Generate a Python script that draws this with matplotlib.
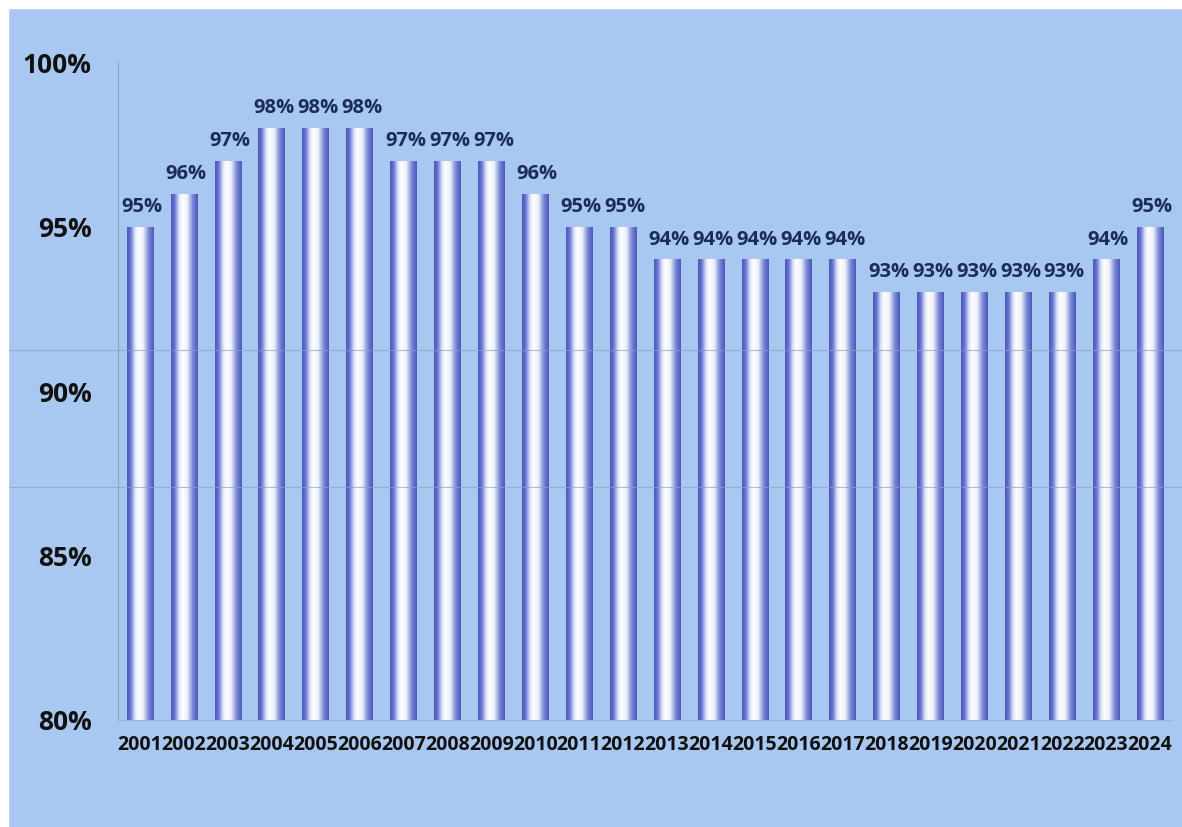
import matplotlib
matplotlib.use('Agg')
import matplotlib.pyplot as plt
import numpy as np
from matplotlib.colors import LinearSegmentedColormap
from matplotlib.lines import Line2D

# valores
years = [str(y) for y in range(2001, 2025)]
values = [95, 96, 97, 98, 98, 98, 97, 97, 97, 96, 95, 95,
          94, 94, 94, 94, 94, 93, 93, 93, 93, 93, 94, 95]
ymin = 80
ymax = 100
yticks = [80, 85, 90, 95, 100]

bg = '#a9c8f1'
plt.rcParams['font.family'] = ['Open Sans', 'DejaVu Sans']

fig = plt.figure(figsize=(11.82, 8.27), dpi=100, facecolor=bg)
ax = fig.add_axes([0.0998, 0.1294, 0.8917, 0.7956])
ax.set_facecolor(bg)

# gradiente tipo cilindro
cyl = LinearSegmentedColormap.from_list('cyl', [
    (0.0, '#4b58bd'), (0.12, '#6371cf'), (0.3, '#dfe6fb'), (0.42, '#ffffff'),
    (0.6, '#eef1fc'), (0.82, '#7886d5'), (1.0, '#4b58bd')])
grad = np.linspace(0, 1, 64).reshape(1, -1)

x = np.arange(len(years))
width = 0.6
bars = ax.bar(x, [v - ymin for v in values], width, bottom=ymin,
              color='none', edgecolor='none', zorder=2)
for xi, v, b in zip(x, values, bars):
    im = ax.imshow(grad, cmap=cyl, aspect='auto', zorder=2,
                   extent=[xi - width / 2, xi + width / 2, ymin, v],
                   interpolation='bilinear')
    im.set_clip_path(b)
    ax.text(xi + 0.05, v + 0.3, f'{v}%', ha='center', va='bottom',
            fontsize=14.5, fontweight='bold', color='#1b2b5c', zorder=3)

ax.set_xlim(-0.5, len(years) - 0.5)
ax.set_ylim(ymin, ymax)
ax.set_yticks(yticks)
ax.set_yticklabels([f'{t}%' for t in yticks], fontsize=19, fontweight='bold',
                   color='#111111')
ax.set_xticks(x)
ax.set_xticklabels(years, fontsize=14, fontweight='bold', color='#111111')
ax.tick_params(axis='y', length=0, pad=19)
ax.tick_params(axis='x', length=0, pad=11)

for s in ['top', 'right']:
    ax.spines[s].set_visible(False)
ax.spines['left'].set_color('#8aa4c8')
ax.spines['left'].set_linewidth(0.8)
ax.spines['bottom'].set_color('#9bb3d6')
ax.spines['bottom'].set_linewidth(0.8)

# lineas tenues del escaneo
for yy in [1 - 350 / 827, 1 - 487 / 827]:
    fig.add_artist(Line2D([0.007, 1], [yy, yy], color='#8ea3bf', lw=0.8, alpha=0.7))

# borde blanco arriba e izquierda
fig.add_artist(plt.Rectangle((0, 1 - 8 / 827), 1, 8 / 827, color='white',
                             transform=fig.transFigure, zorder=10))
fig.add_artist(plt.Rectangle((0, 0), 8 / 1182, 1, color='white',
                             transform=fig.transFigure, zorder=10))

fig.savefig('out.png', dpi=100, facecolor=bg)
